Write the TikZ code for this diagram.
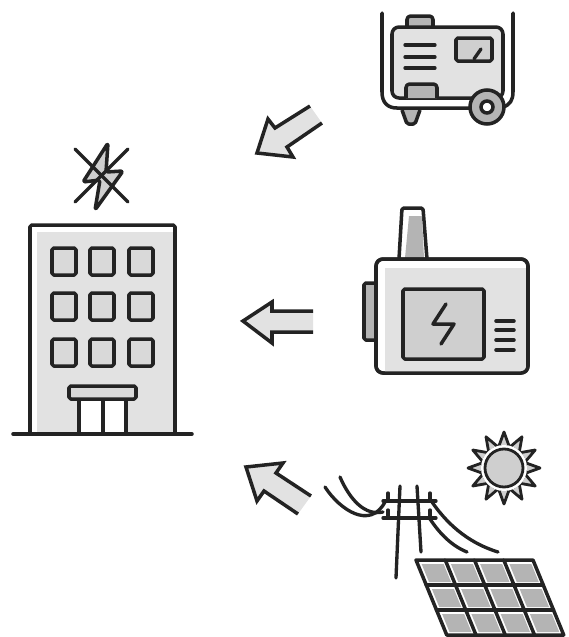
\documentclass[tikz,border=0pt]{standalone}
\usepackage{tikz}
\definecolor{inkline}{HTML}{232323}
\definecolor{panelgrey}{HTML}{E2E2E2}
\definecolor{softgrey}{HTML}{CFCFCF}
\definecolor{midgrey}{HTML}{B4B4B4}
\tikzset{
  outline/.style={draw=inkline, line width=2pt, rounded corners=1pt, line join=round},
  thinline/.style={draw=inkline, line width=1.9pt, line cap=round, line join=round},
  casing/.style={outline, rounded corners=4pt, fill=panelgrey},
  pane/.style={outline, fill=softgrey},
  capbox/.style={outline, rounded corners=2pt, fill=midgrey},
  arrowfill/.style={fill=panelgrey},
  arrowedge/.style={draw=inkline, line width=2pt, line join=miter}
}
\begin{document}
\begin{tikzpicture}[x=0.02cm, y=-0.02cm]
      \useasboundingbox (0,0) rectangle (569,637);
      % generator
      \draw[capbox] (407,27) -- (407,16) -- (433,16) -- (433,27);
      \draw[capbox, rounded corners=1pt] (402,110) -- (407,124) -- (415,124) -- (420,110);
      \draw[thinline, line width=2pt] (382,13) -- (382,92) .. controls (382,103) and (388,108) .. (397,108) -- (472,108);
      \draw[thinline, line width=2pt] (513,13) -- (513,92) .. controls (513,100) and (510,105) .. (503,107);
      \draw[casing] (392,27) rectangle (503,98);
      \draw[capbox] (406,98) -- (406,84) -- (437,84) -- (437,98);
      \foreach \ly in {45,57,68}
        \draw[thinline] (405,\ly) -- (435,\ly);
      \draw[pane] (456,38) rectangle (492,61);
      \draw[thinline] (474,59) -- (481,49);
      \draw[draw=inkline, line width=2pt, fill=midgrey] (487,107) circle (17);
      \draw[draw=inkline, line width=2pt, fill=white] (487,107) circle (6);
      % building
      \fill[panelgrey] (37,232) rectangle (175,433);
      \draw[outline] (30,433) -- (30,225) -- (175,225) -- (175,433);
      \foreach \wx in {52,90,129}
        \foreach \wy in {248,293,339}
          \draw[outline, fill=panelgrey!96!black] (\wx,\wy) rectangle ++(24,27);
      \draw[outline, fill=white] (79,433) -- (79,399) -- (126,399) -- (126,433);
      \draw[thinline, line width=2pt] (103,399) -- (103,433);
      \draw[pane, fill=panelgrey!96!black] (69,386) rectangle (136,399);
      \draw[thinline, line width=2pt] (13,434) -- (192,434);
      \draw[outline, fill=softgrey] (108,143) -- (83,182) -- (100,180) -- (95,210) -- (123,171) -- (106,172) -- cycle;
      \draw[thinline] (75,149) -- (128,202);
      \draw[thinline] (128,149) -- (75,202);
      % plant
      \draw[outline, fill=white] (399,259) -- (402,208) -- (423,208) -- (427,259);
      \fill[midgrey] (409,216) -- (422,216) -- (424,258) -- (405,258) -- cycle;
      \draw[outline, fill=midgrey] (376,283) -- (364,283) -- (364,340) -- (376,340);
      \draw[outline, rounded corners=4pt, fill=white] (376,259) rectangle (528,373);
      \fill[panelgrey] (385,268) rectangle (527,372);
      \draw[outline, rounded corners=4pt] (376,259) rectangle (528,373);
      \draw[pane] (403,289) rectangle (484,359);
      \draw[thinline, line width=2pt] (446,304) -- (433,324) -- (454,324) -- (441,344);
      \foreach \ly in {321,330,340,350}
        \draw[thinline, line width=2pt] (496,\ly) -- (514,\ly);
      % arrows
      \fill[arrowfill] (310,106) -- (275,128) -- (268,119) -- (257,153) -- (293,157) -- (287,147) -- (322,123) -- cycle;
      \draw[arrowedge] (310,106) -- (275,128) -- (268,119) -- (257,153) -- (293,157) -- (287,147) -- (322,123);
      \fill[arrowfill] (313,311) -- (272,311) -- (272,302) -- (243,321) -- (272,343) -- (272,332) -- (313,332) -- cycle;
      \draw[arrowedge] (313,311) -- (272,311) -- (272,302) -- (243,321) -- (272,343) -- (272,332) -- (313,332);
      \fill[arrowfill] (311,496) -- (276,473) -- (283,463) -- (246,467) -- (257,501) -- (264,491) -- (298,514) -- cycle;
      \draw[arrowedge] (311,496) -- (276,473) -- (283,463) -- (246,467) -- (257,501) -- (264,491) -- (298,514);
      % sun
      \foreach \ang in {0,30,...,330}
        \draw[thinline, line width=1.6pt, fill=softgrey] ({504+36*cos(\ang)},{468+36*sin(\ang)}) -- ({504+22*cos(\ang-14)},{468+22*sin(\ang-14)}) -- ({504+22*cos(\ang+14)},{468+22*sin(\ang+14)}) -- cycle;
      \fill[white] (504,468) circle (23);
      \draw[draw=inkline, line width=1.6pt, fill=softgrey] (504,468) circle (19);
      % pole and wires
      \draw[thinline] (400,486) -- (396,578);
      \draw[thinline] (417,486) -- (421,552);
      \draw[thinline] (383,501) -- (436,501);
      \draw[thinline] (383,518) -- (436,518);
      \foreach \ix in {388,430} {
        \draw[thinline] (\ix,493) -- (\ix,501);
        \draw[thinline] (\ix,510) -- (\ix,518);
      }
      \draw[thinline] (340,477) .. controls (350,500) and (365,516) .. (383,512);
      \draw[thinline] (325,487) .. controls (340,510) and (370,530) .. (385,502);
      \draw[thinline] (432,502) .. controls (450,528) and (472,544) .. (498,552);
      \draw[thinline] (430,519) .. controls (440,534) and (452,546) .. (467,552);
      % solar panel
      \begin{scope}[shift={(416,560)}, xslant=-0.41]
        \fill[white] (0,0) rectangle (117,75);
        \foreach \cx in {0,1,2,3}
          \foreach \cy in {0,1,2}
            \fill[midgrey] ({\cx*29.25+4},{\cy*25+4}) rectangle ({\cx*29.25+26},{\cy*25+22});
        \draw[outline, rounded corners=0pt] (0,0) rectangle (117,75);
        \foreach \cx in {1,2,3}
          \draw[thinline, line width=2pt] ({\cx*29.25},0) -- ({\cx*29.25},75);
        \foreach \cy in {1,2}
          \draw[thinline, line width=2pt] (0,{\cy*25}) -- (117,{\cy*25});
      \end{scope}
    \end{tikzpicture}
\end{document}
